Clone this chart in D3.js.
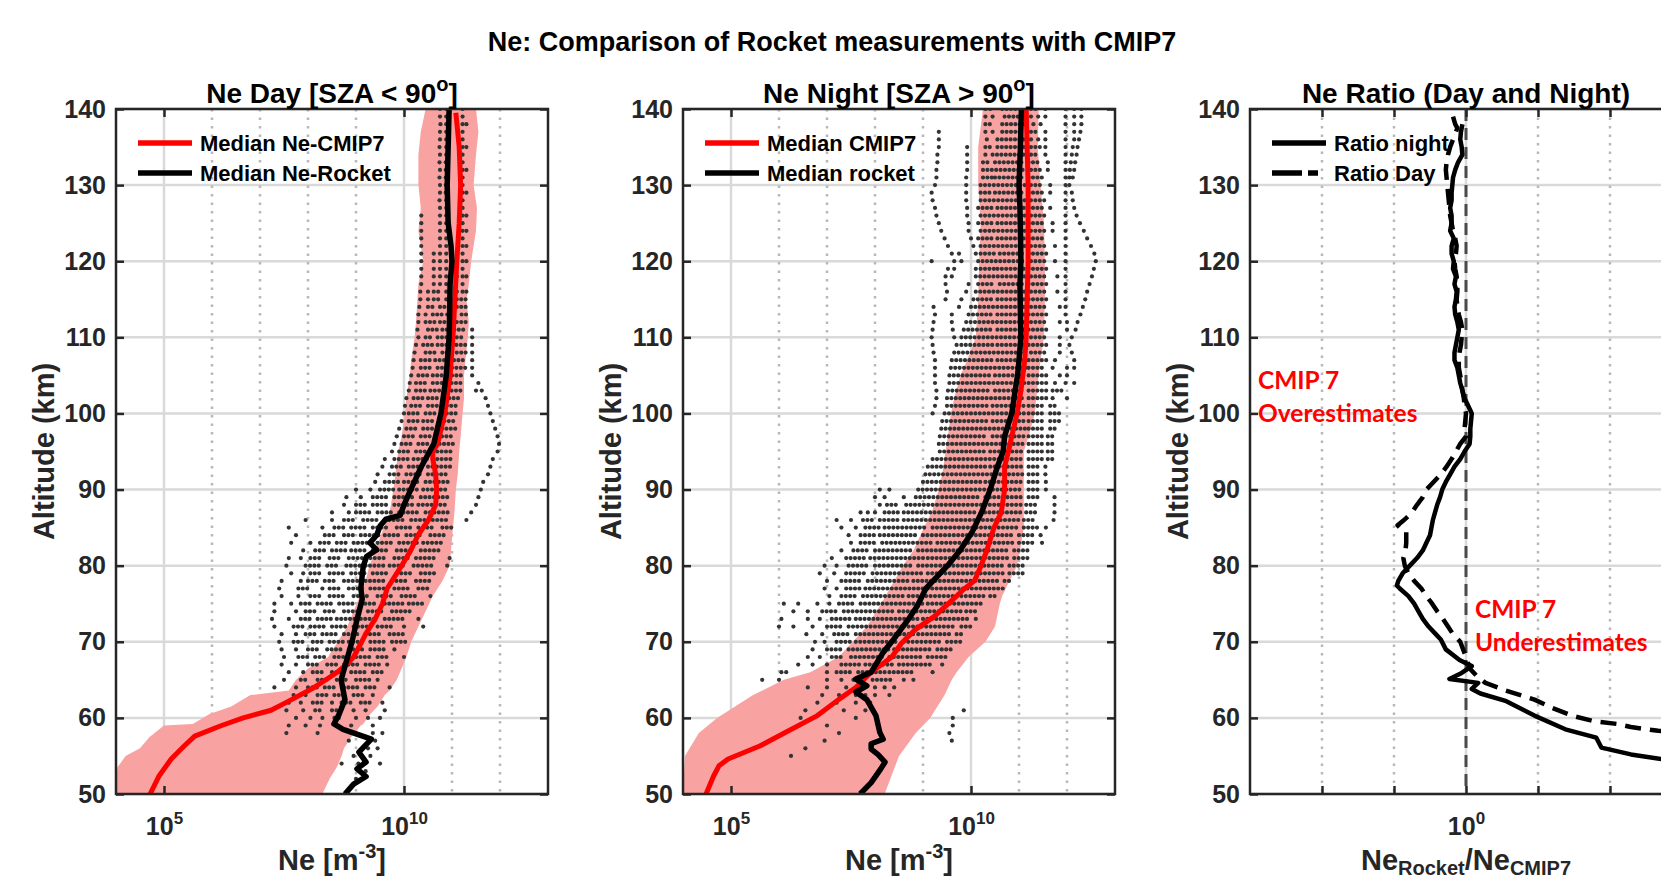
<!DOCTYPE html>
<html>
<head>
<meta charset="utf-8">
<script src="https://cdn.jsdelivr.net/npm/d3@7"></script>
<style>
  body { margin: 0; background: #fff; }
  svg { display: block; font-family: "Liberation Sans", Arial, sans-serif; }
</style>
</head>
<body>
<svg id="chart" width="1661" height="882"></svg>
<script>
// altitude ticks (km)
var altTicks = [50, 60, 70, 80, 90, 100, 110, 120, 130, 140];

// x ticks: log10 exponents
var neDecades = [5, 6, 7, 8, 9, 10, 11, 12];
var neLabels = [5, 10];
var ratioDecades = [-2, -1, 0, 1, 2];
var ratioLabels = [0];

// CMIP7 cloud envelope, day: [alt, log10 min, log10 max]
var dayCloud = [
  [140, 10.45, 11.5], [137, 10.35, 11.55], [134, 10.3, 11.5], [130, 10.3, 11.45],
  [127, 10.35, 11.52], [124, 10.3, 11.5], [120, 10.4, 11.4], [117, 10.3, 11.35],
  [115, 10.28, 11.3], [112, 10.25, 11.35], [110, 10.22, 11.33], [107, 10.15, 11.28],
  [105, 10.12, 11.25], [102, 10.05, 11.25], [100, 10.02, 11.22], [97, 9.95, 11.18],
  [95, 9.88, 11.15], [92, 9.82, 11.12], [90, 9.78, 11.08], [87, 9.7, 11.05],
  [85, 9.58, 11.02], [82, 9.4, 10.98], [80, 9.28, 10.95], [78, 9.2, 10.8],
  [76, 9.08, 10.6], [74, 8.95, 10.45], [72, 8.82, 10.3], [70, 8.62, 10.15],
  [68, 8.42, 10.05], [66.5, 8.0, 9.95], [65, 7.75, 9.85], [63.6, 7.6, 9.7],
  [63, 6.8, 9.6], [61.5, 6.4, 9.45], [60.5, 5.95, 9.3], [59.2, 5.6, 9.15],
  [59, 5.0, 9.1], [57.5, 4.7, 8.9], [56, 4.5, 8.75], [55, 4.2, 8.7],
  [53.5, 4.03, 8.6], [52, 4.0, 8.45], [50, 4.0, 8.3]
];

// CMIP7 cloud envelope, night
var nightCloud = [
  [140, 10.25, 11.41], [135, 10.15, 11.39], [130, 10.15, 11.45], [125, 10.2, 11.52],
  [120, 10.17, 11.54], [115, 10.15, 11.54], [110, 10.1, 11.52], [107, 9.92, 11.45],
  [105, 9.78, 11.41], [102, 9.65, 11.36], [100, 9.58, 11.33], [97, 9.52, 11.2],
  [95, 9.47, 11.1], [92, 9.4, 11.1], [90, 9.33, 11.1], [87, 9.18, 11.1],
  [85, 9.02, 11.1], [82, 8.8, 11.02], [80, 8.58, 10.96], [78, 8.4, 10.8],
  [76, 8.22, 10.65], [75, 8.13, 10.6], [72, 7.83, 10.5], [70, 7.54, 10.3],
  [68, 7.24, 9.95], [66, 6.65, 9.7], [65, 6.1, 9.6], [63, 5.46, 9.45],
  [60, 4.71, 9.15], [58, 4.33, 8.85], [55, 4.04, 8.5], [50, 4.0, 8.2]
];

// median profiles: [alt, log10 Ne]
var dayCmipMedian = [
  [139.5, 11.08], [135, 11.15], [130, 11.18], [125, 11.15], [120, 11.1], [115, 11.06],
  [110, 11.02], [105, 10.96], [100, 10.85], [96, 10.7], [95, 10.6], [94, 10.6],
  [92, 10.66], [90, 10.68], [88, 10.66], [86, 10.51], [84, 10.29], [82, 10.14],
  [80, 9.95], [77, 9.65], [75, 9.55], [73, 9.4], [71, 9.2], [70, 9.12], [68, 8.95],
  [67, 8.8], [66, 8.61], [64, 8.13], [62, 7.54], [61, 7.23], [60, 6.65], [59, 6.2],
  [57.6, 5.64], [56.3, 5.42], [54.6, 5.15], [52.4, 4.9], [50, 4.71]
];
var dayRocketMedian = [
  [140, 10.94], [135, 10.92], [130, 10.9], [125, 10.92], [122, 10.98], [120, 11.0],
  [117, 10.96], [113, 10.95], [110, 10.94], [105, 10.88], [100, 10.77], [96, 10.62],
  [93, 10.36], [90, 10.14], [88, 10.0], [86.6, 9.92], [86.1, 9.62], [85.2, 9.5],
  [84, 9.43], [83, 9.29], [82.1, 9.43], [81.2, 9.22], [79.9, 9.15], [77, 9.1],
  [75.6, 9.13], [72.9, 9.02], [70.1, 8.92], [66.8, 8.77], [65, 8.69], [62.4, 8.77],
  [60.5, 8.65], [59.2, 8.54], [58.5, 8.73], [57.2, 9.32], [55.5, 9.06], [54.2, 9.21],
  [53.3, 9.02], [52.3, 9.21], [51.3, 8.95], [50, 8.77]
];
var nightCmipMedian = [
  [140, 11.15], [130, 11.19], [120, 11.19], [110, 11.15], [107, 11.12], [103, 11.04],
  [100, 10.96], [97, 10.85], [95, 10.78], [93, 10.7], [90, 10.7], [87, 10.63],
  [85, 10.48], [82, 10.33], [80, 10.21], [78, 10.07], [76.9, 9.85], [75.6, 9.63],
  [73.4, 9.25], [71.6, 8.84], [69.8, 8.55], [68, 8.35], [66, 7.92], [64, 7.6],
  [62.4, 7.24], [60.3, 6.8], [58.3, 6.2], [56.3, 5.6], [54.6, 4.94], [53.7, 4.75],
  [52.4, 4.64], [50, 4.48]
];
var nightRocketMedian = [
  [140, 11.05], [135, 11.03], [130, 11.0], [127, 11.02], [124, 11.03], [120, 11.04],
  [117, 11.02], [113, 11.03], [110, 11.04], [107, 11.0], [105, 10.97], [103, 10.92],
  [100, 10.85], [97, 10.7], [95, 10.67], [93, 10.55], [90, 10.4], [87, 10.22],
  [84.5, 10.03], [82, 9.77], [80, 9.51], [78, 9.21], [77, 9.06], [74.7, 8.88],
  [72.9, 8.69], [70.1, 8.36], [68.6, 8.17], [66, 7.92], [65.1, 7.6], [64.2, 7.83],
  [63.4, 7.6], [62.4, 7.83], [60.3, 8.02], [58.1, 8.1], [57.2, 8.17], [56.6, 7.92],
  [55.9, 7.92], [55.2, 8.06], [54.2, 8.21], [53.3, 8.12], [51.5, 7.92], [50, 7.69]
];

// rocket measurements, day: [alt, [log10 Ne] or [from, to] runs of points]
var dayRocket = [
  [140, [10.75], [10.88], [11.22]], [139, [10.75], [10.88], [11.22]],
  [138, [10.76], [10.88], [11.22], [11.3]], [137, [10.75], [10.88], [11.22]],
  [136, [10.75], [10.88], [11.22]], [135, [10.74], [10.88], [11.22], [11.3]],
  [134, [10.75], [10.88], [11.22]], [133, [10.74], [10.87], [11.22]],
  [132, [10.75], [10.87], [11.22], [11.3]], [131, [10.74], [10.87], [11.22]],
  [130, [10.75], [10.87], [11.22]], [129, [10.75], [10.87], [11.22], [11.3]],
  [128, [10.74], [10.88], [11.22]], [127, [10.75], [10.88], [11.22]],
  [126, [10.36], [10.75], [10.88], [11.22], [11.3]], [125, [10.36], [10.75], [10.88], [11.22]],
  [124, [10.36], [10.75], [10.88], [11.22], [11.3]], [123, [10.36], [10.75], [10.88], [11.22]],
  [122, [10.36], [10.75], [10.88], [11.22], [11.3]], [121, [10.36], [10.62], [10.75], [10.88], [11.22]],
  [120, [10.36], [10.62], [10.75], [10.88], [11.22], [11.3]],
  [119, [10.36], [10.62], [10.75], [10.88], [11.22]],
  [118, [10.36], [10.62], [10.75], [10.88], [11.1], [11.22], [11.3]],
  [117, [10.36], [10.62], [10.75], [10.88], [11.22]],
  [116, [10.34], [10.5], [10.62, 10.75], [10.88], [11.1], [11.22], [11.3]],
  [115, [10.34], [10.5], [10.62, 10.8], [10.88, 11.0], [11.1, 11.3]],
  [114, [10.32], [10.5, 10.65], [10.75, 10.95], [11.1, 11.3]],
  [113, [10.3], [10.45], [10.6, 10.8], [10.9, 11.05], [11.2, 11.3]],
  [112, [10.3], [10.45, 10.65], [10.75, 11.0], [11.1, 11.3]],
  [111, [10.28], [10.5, 10.7], [10.8, 10.95], [11.05, 11.3], [11.42]],
  [110, [10.3], [10.45, 10.6], [10.7, 11.0], [11.1, 11.25], [11.42]],
  [109, [10.25], [10.4, 10.6], [10.7, 10.9], [11.0, 11.3], [11.42]],
  [108, [10.22], [10.45, 10.7], [10.8, 11.0], [11.1, 11.3], [11.42]],
  [107, [10.2], [10.35, 10.55], [10.65, 10.85], [10.95, 11.25], [11.42]],
  [106, [10.18], [10.35, 10.6], [10.7, 10.9], [11.0, 11.3], [11.42]],
  [105, [10.15], [10.3, 10.5], [10.6, 10.9], [11.0, 11.2], [11.42]],
  [104, [10.12], [10.25, 10.5], [10.6, 10.8], [10.9, 11.25], [11.55]],
  [103, [10.1], [10.25, 10.45], [10.55, 10.8], [10.9, 11.2], [11.5], [11.62]],
  [102, [10.05], [10.2, 10.4], [10.5, 10.75], [10.85, 11.2], [11.7]],
  [101, [10.02], [10.15, 10.4], [10.5, 10.7], [10.8, 11.15], [11.75]],
  [100, [10.0], [10.1, 10.35], [10.45, 10.7], [10.8, 11.15], [11.8]],
  [99, [9.95], [10.1, 10.3], [10.4, 10.65], [10.75, 11.1], [11.85]],
  [98, [9.9], [10.05, 10.3], [10.4, 10.6], [10.7, 11.1], [11.9]],
  [97, [9.85], [10.0, 10.25], [10.35, 10.6], [10.7, 11.05], [11.95]],
  [96, [9.8], [9.95, 10.2], [10.3, 10.55], [10.65, 11.05], [11.98]],
  [95, [9.75], [9.9, 10.15], [10.25, 10.5], [10.6, 11.0], [11.95]],
  [94, [9.6], [9.8, 10.1], [10.2, 10.5], [10.6, 11.0], [11.85]],
  [93, [9.55], [9.75, 10.0], [10.1, 10.4], [10.5, 11.0], [11.8]],
  [92, [9.45], [9.7, 9.95], [10.05, 10.4], [10.5, 10.95], [11.75]],
  [91, [9.4], [9.6, 9.9], [10.0, 10.3], [10.45, 10.95], [11.65]],
  [90, [9.0], [9.3], [9.5, 9.8], [9.9, 10.3], [10.4, 10.95], [11.6]],
  [89, [8.8], [9.1], [9.35, 9.7], [9.8, 10.2], [10.35, 10.9], [11.55]],
  [88, [8.75], [9.0, 9.2], [9.35, 9.65], [9.8, 10.2], [10.3, 10.9], [11.5]],
  [87, [8.5], [8.85], [9.0, 9.3], [9.45, 9.8], [9.9, 10.3], [10.45, 10.95], [11.4]],
  [86, [7.95], [8.5], [8.75, 9.0], [9.15, 9.5], [9.6, 10.0], [10.15, 10.5], [10.6, 10.9], [11.3]],
  [85, [7.6], [8.3], [8.55, 8.75], [8.9, 9.2], [9.35, 9.7], [9.85, 10.2], [10.3, 10.65], [10.8, 11.0]],
  [84, [7.75], [8.35, 8.6], [8.75, 9.0], [9.1, 9.5], [9.6, 9.9], [10.05, 10.4], [10.55, 10.9]],
  [83, [7.65], [8.05], [8.25, 8.45], [8.6, 8.8], [8.95, 9.3], [9.45, 9.8], [9.9, 10.3], [10.4, 10.8]],
  [82, [7.9], [8.15, 8.35], [8.5, 8.8], [8.9, 9.2], [9.35, 9.7], [9.85, 10.2], [10.35, 10.75]],
  [81, [7.6], [7.85], [8.05, 8.3], [8.45, 8.7], [8.85, 9.2], [9.3, 9.65], [9.8, 10.1], [10.25, 10.7], [10.95]],
  [80, [7.55], [7.95, 8.25], [8.4, 8.65], [8.8, 9.1], [9.2, 9.6], [9.7, 10.05], [10.2, 10.6], [10.9]],
  [79, [7.65], [7.9], [8.05, 8.3], [8.45, 8.75], [8.9, 9.25], [9.35, 9.7], [9.85, 10.2], [10.35, 10.7]],
  [78, [7.45], [7.85], [8.0, 8.2], [8.35, 8.6], [8.75, 9.1], [9.2, 9.6], [9.75, 10.1], [10.25, 10.6]],
  [77, [7.4], [7.8, 8.0], [8.3], [8.45, 8.7], [8.85, 9.2], [9.3, 9.65], [9.8, 10.15], [10.3, 10.55]],
  [76, [7.45], [7.8], [8.05, 8.25], [8.45, 8.8], [8.95, 9.3], [9.45, 9.8], [9.95, 10.3], [10.55]],
  [75, [7.3], [7.65], [7.85, 8.05], [8.2, 8.5], [8.65, 9.0], [9.1, 9.45], [9.6, 10.0], [10.1, 10.45]],
  [74, [7.3], [7.75], [7.95, 8.2], [8.35, 8.6], [8.75, 9.1], [9.25, 9.6], [9.75, 10.15]],
  [73, [7.25], [7.6], [7.85, 8.1], [8.2, 8.5], [8.6, 9.0], [9.1, 9.45], [9.6, 10.0], [10.3]],
  [72, [7.3], [7.7, 7.9], [8.05, 8.35], [8.5, 8.8], [8.95, 9.3], [9.45, 9.8], [10.0], [10.4]],
  [71, [7.45], [7.75], [7.95, 8.2], [8.3, 8.6], [8.75, 9.05], [9.2, 9.55], [9.7, 10.0]],
  [70, [7.4], [7.7, 7.9], [8.1, 8.35], [8.45, 8.75], [8.85, 9.2], [9.3, 9.6], [9.75, 10.1]],
  [69, [7.45], [7.75], [8.0, 8.25], [8.4, 8.7], [8.85, 9.15], [9.3, 9.6], [9.8]],
  [68, [7.5], [7.8, 8.0], [8.15, 8.4], [8.55, 8.85], [9.0, 9.3], [9.45, 9.7], [10.0]],
  [67, [7.45], [7.75], [8.0, 8.25], [8.4, 8.6], [8.75, 9.05], [9.2, 9.5], [9.65]],
  [66, [7.6], [7.9], [8.1, 8.35], [8.5, 8.75], [8.9, 9.2], [9.35, 9.55]],
  [65, [7.5], [7.85, 8.0], [8.2, 8.45], [8.6, 8.85], [9.0, 9.3], [9.45]],
  [64, [7.3], [7.75], [8.0, 8.2], [8.35, 8.6], [8.75, 9.05], [9.2, 9.4], [9.7]],
  [63, [7.7], [7.95], [8.2, 8.4], [8.55, 8.8], [8.95, 9.2], [9.35]],
  [62, [7.6], [7.85], [8.1, 8.3], [8.5], [8.7, 8.9], [9.1, 9.3], [9.55]],
  [61, [7.55], [7.9], [8.15, 8.3], [8.5, 8.7], [8.95], [9.2], [9.6]],
  [60, [7.75], [8.05], [8.3], [8.55, 8.7], [9.0], [9.25], [9.5]],
  [59, [7.6], [7.95], [8.25], [8.9], [9.35]],
  [58, [7.55], [8.2], [9.35], [9.55]],
  [57, [8.85], [9.4]], [56, [9.25], [9.45]], [55, [8.95], [9.3]],
  [54, [8.7], [9.05], [9.5]], [53, [9.2]], [52, [9.0]]
];

// rocket measurements, night
var nightRocket = [
  [140, [10.3], [10.4], [10.65, 11.1], [11.25, 11.4], [11.55], [11.97], [12.15], [12.3]],
  [139, [10.3], [10.45], [10.7, 11.1], [11.25], [11.4], [11.55], [11.97], [12.15], [12.3]],
  [138, [10.3, 10.45], [10.65, 11.15], [11.3], [11.45], [11.97], [12.15], [12.3]],
  [137, [9.33], [10.3], [10.45], [10.65, 11.1], [11.25, 11.4], [11.55], [11.97], [12.15], [12.28]],
  [136, [9.33], [10.33], [10.55, 11.15], [11.25], [11.4], [11.55], [11.97], [12.15], [12.25]],
  [135, [9.33], [9.92], [10.3, 10.45], [10.55, 11.1], [11.25, 11.45], [11.55], [11.97], [12.12], [12.22]],
  [134, [9.3], [9.92], [10.3], [10.45, 11.15], [11.25, 11.4], [11.55], [11.97], [12.1], [12.2]],
  [133, [9.3], [9.92], [10.25, 10.4], [10.5, 11.1], [11.2, 11.45], [11.6], [11.97], [12.08], [12.17]],
  [132, [9.28], [9.92], [10.25, 11.15], [11.25, 11.45], [11.6], [11.97], [12.06], [12.15]],
  [131, [9.28], [9.9], [10.25, 10.45], [10.5, 11.1], [11.2, 11.5], [11.97], [12.05], [12.12]],
  [130, [9.25], [9.9], [10.2, 11.15], [11.25, 11.5], [11.65], [11.97], [12.05]],
  [129, [9.18], [9.9], [10.2, 10.45], [10.5, 11.1], [11.2, 11.5], [11.65], [11.97], [12.1]],
  [128, [9.2], [9.9], [10.2, 11.15], [11.25, 11.55], [11.97], [12.12]],
  [127, [9.25], [9.92], [10.15, 10.5], [10.55, 11.1], [11.2, 11.5], [11.65], [11.97], [12.15]],
  [126, [9.28], [9.92], [10.2, 11.15], [11.25, 11.55], [11.97], [12.2]],
  [125, [9.33], [9.95], [10.15, 10.5], [10.55, 11.1], [11.2, 11.55], [11.7], [11.97], [12.27]],
  [124, [9.38], [9.95], [10.2, 11.15], [11.25, 11.55], [11.7], [11.97], [12.35]],
  [123, [9.45], [10.0], [10.15, 10.45], [10.55, 11.1], [11.2, 11.55], [11.97], [12.42]],
  [122, [9.52], [10.05], [10.2, 11.15], [11.25, 11.6], [11.75], [11.97], [12.5]],
  [121, [9.6], [9.75], [10.1], [10.2, 10.5], [10.6, 11.1], [11.2, 11.6], [11.97], [12.57]],
  [120, [9.18], [9.65], [9.8], [10.15, 11.15], [11.25, 11.6], [11.75], [11.97], [12.6]],
  [119, [9.52], [9.65], [10.1], [10.2, 10.5], [10.55, 11.1], [11.2, 11.6], [11.97], [12.56]],
  [118, [9.47], [9.6], [10.1, 11.15], [11.25, 11.6], [11.8], [11.97], [12.52]],
  [117, [9.47], [9.95], [10.15, 10.5], [10.6, 11.1], [11.2, 11.6], [11.97], [12.47]],
  [116, [9.5], [9.9], [10.1, 11.15], [11.25, 11.6], [11.8], [11.97], [12.42]],
  [115, [9.47], [9.8], [10.05, 10.5], [10.55, 11.1], [11.2, 11.6], [11.97], [12.38]],
  [114, [9.22], [9.75], [10.0, 11.15], [11.25, 11.6], [11.85], [11.97], [12.33]],
  [113, [9.25], [9.6], [9.95, 10.5], [10.55, 11.1], [11.2, 11.6], [11.97], [12.28]],
  [112, [9.22], [9.6], [9.9, 11.15], [11.25, 11.6], [11.85], [12.0], [12.22]],
  [111, [9.2], [9.62], [9.85, 10.45], [10.55, 11.1], [11.2, 11.6], [12.0], [12.18]],
  [110, [9.18], [9.65], [9.8, 11.15], [11.25, 11.6], [11.85], [12.1]],
  [109, [9.2], [9.7], [9.8, 10.5], [10.55, 11.1], [11.2, 11.6], [11.85], [12.05]],
  [108, [9.22], [9.65, 11.15], [11.25, 11.6], [11.85], [12.1]],
  [107, [9.25], [9.6, 10.5], [10.55, 11.1], [11.2, 11.6], [11.75], [12.15]],
  [106, [9.25], [9.58, 11.15], [11.2, 11.55], [11.7], [12.0], [12.15]],
  [105, [9.25], [9.55, 10.45], [10.5, 11.1], [11.2, 11.6], [11.85], [12.0]],
  [104, [9.25], [9.55, 11.15], [11.2, 11.6], [11.75], [11.97], [12.15]],
  [103, [9.28], [9.52, 10.4], [10.5, 11.1], [11.2, 11.6], [11.7, 11.93]],
  [102, [9.28], [9.5, 11.15], [11.2, 11.6], [11.7], [12.0]],
  [101, [9.25], [9.5, 10.4], [10.45, 11.1], [11.2, 11.55], [11.65, 11.82]],
  [100, [9.2], [9.45, 11.15], [11.2, 11.55], [11.65, 11.85]],
  [99, [9.4, 10.35], [10.45, 11.1], [11.2, 11.55], [11.65, 11.85]],
  [98, [9.38, 11.15], [11.2, 11.55], [11.65, 11.78]],
  [97, [9.35, 10.35], [10.45, 11.1], [11.2, 11.5], [11.6, 11.78]],
  [96, [9.33, 11.15], [11.2, 11.5], [11.6, 11.74]],
  [95, [9.35, 10.3], [10.4, 11.1], [11.2, 11.5], [11.6, 11.74]],
  [94, [9.2, 11.1], [11.2, 11.5], [11.6, 11.7]],
  [93, [9.1, 10.3], [10.4, 11.1], [11.2, 11.45], [11.55, 11.63]],
  [92, [9.05, 11.1], [11.2, 11.45], [11.55, 11.6]],
  [91, [9.0, 10.2], [10.3, 11.1], [11.2, 11.45], [11.56]],
  [90, [8.1], [8.3], [8.9, 11.1], [11.2, 11.45], [11.56]],
  [89, [8.0], [8.2], [8.6], [8.85, 10.2], [10.3, 11.1], [11.2, 11.4], [11.74]],
  [88, [8.1], [8.25, 8.5], [8.65, 11.05], [11.15, 11.4], [11.74]],
  [87, [7.7], [7.85], [8.0], [8.2, 8.5], [8.6, 10.1], [10.2, 11.05], [11.15, 11.4], [11.74]],
  [86, [7.2], [7.5], [7.75, 8.0], [8.1, 8.5], [8.6, 11.0], [11.1, 11.35], [11.72]],
  [85, [7.3], [7.6], [7.8, 8.1], [8.2, 9.1], [9.2, 11.0], [11.1, 11.4], [11.56]],
  [84, [7.45], [7.7, 8.0], [8.1, 8.9], [9.0, 10.9], [11.0, 11.35], [11.45]],
  [83, [7.5], [7.7, 8.0], [8.15, 9.2], [9.3, 10.9], [11.0, 11.35], [11.48]],
  [82, [7.3], [7.55, 7.9], [8.0, 8.8], [8.9, 10.8], [10.9, 11.26]],
  [81, [7.1], [7.4, 7.8], [7.9, 9.0], [9.1, 10.8], [10.9, 11.26]],
  [80, [6.95], [7.2], [7.45, 7.9], [8.0, 8.8], [8.9, 10.7], [10.8, 11.1]],
  [79, [6.85], [7.15], [7.4, 7.8], [7.95, 9.0], [9.1, 10.7], [10.8, 11.1]],
  [78, [7.0], [7.3, 7.7], [7.85, 8.7], [8.8, 10.6], [10.7, 10.8]],
  [77, [6.95], [7.2], [7.4, 7.7], [7.8, 9.0], [9.1, 10.6], [10.66]],
  [76, [7.05], [7.3, 7.6], [7.75, 8.6], [8.7, 10.3], [10.4, 10.5]],
  [75, [6.1], [6.4], [6.8], [7.05], [7.25, 7.6], [7.7, 9.0], [9.1, 10.22]],
  [74, [6.3], [6.6], [6.9, 7.2], [7.35, 8.4], [8.5, 9.8], [9.9, 10.1]],
  [73, [6.05], [6.6], [6.85], [7.1, 7.5], [7.6, 8.9], [9.0, 10.0], [10.1]],
  [72, [6.0], [6.3], [6.7], [7.0, 7.3], [7.45, 8.6], [8.7, 9.7], [9.8, 10.0]],
  [71, [6.57], [6.9], [7.15, 7.5], [7.6, 8.8], [8.9, 9.6], [9.7, 9.8]],
  [70, [6.75], [6.95], [7.2, 7.5], [7.6, 8.5], [8.6, 9.4], [9.5, 9.85]],
  [69, [6.7], [7.0, 7.3], [7.45, 8.3], [8.4, 9.2], [9.3, 9.6]],
  [68, [6.6], [6.85], [7.1, 7.3], [7.5, 8.2], [8.3, 9.0], [9.1, 9.5]],
  [67, [6.4], [6.7], [7.0], [7.3, 7.7], [7.8, 8.4], [8.5, 9.2], [9.4]],
  [66, [6.05], [6.15], [7.0], [7.2, 7.5], [7.65, 8.2], [8.3, 8.8], [9.2]],
  [65, [5.65], [6.0], [7.0], [7.3], [7.55, 7.8], [7.95, 8.4], [8.6], [8.8]],
  [64, [6.6], [7.0], [7.4], [7.7], [8.0], [8.2], [8.4]],
  [63, [6.9], [7.25], [7.6], [7.8], [8.0], [8.3]],
  [62, [6.8], [7.2], [7.6], [7.9]],
  [61, [6.55], [7.35], [7.8], [9.85]],
  [60, [6.45], [7.6], [9.62]],
  [59, [7.0], [9.62]], [58, [7.25], [9.55]], [57, [6.95], [9.6]],
  [56, [6.55]], [55, [6.25]]
];

// ratio Ne_rocket / Ne_CMIP7: [alt, log10 ratio]
var ratioNight = [
  [138, -0.05], [137, -0.07], [136, -0.08], [135, -0.06], [134, -0.05], [133, -0.11],
  [132, -0.15], [131, -0.18], [130, -0.19], [129, -0.2], [128, -0.2], [127, -0.22],
  [126, -0.2], [125, -0.2], [124, -0.22], [123, -0.17], [122, -0.2], [121, -0.2],
  [120, -0.17], [119, -0.18], [118, -0.14], [117, -0.16], [116, -0.13], [115, -0.14],
  [114, -0.16], [113, -0.15], [112, -0.12], [111, -0.1], [110, -0.12], [109, -0.14],
  [108, -0.16], [107, -0.16], [106, -0.12], [105, -0.1], [104, -0.08], [103, -0.05],
  [102, -0.02], [101, 0.03], [100, 0.08], [99, 0.07], [98, 0.06], [97, 0.06],
  [96, 0.05], [95, -0.02], [94, -0.08], [93, -0.16], [92, -0.22], [91, -0.28],
  [90, -0.33], [89, -0.36], [88, -0.4], [87, -0.43], [86, -0.46], [85, -0.48],
  [84, -0.5], [83, -0.55], [82, -0.6], [81, -0.68], [80, -0.78], [79, -0.88],
  [78, -0.94], [77.4, -0.96], [77, -0.92], [76, -0.8], [75, -0.72], [74, -0.66],
  [73, -0.6], [72, -0.52], [71, -0.42], [70.3, -0.35], [69, -0.28], [67.6, -0.09],
  [66.8, 0.08], [65.9, -0.06], [65.1, -0.23], [64.6, 0.17], [63.8, 0.08], [63.2, 0.2],
  [62.2, 0.56], [60.3, 0.95], [58.5, 1.38], [57.4, 1.81], [56.1, 1.88], [55.2, 2.29],
  [54.6, 2.71], [53.5, 3.1]
];
var ratioDay = [
  [139, -0.18], [138, -0.15], [137.5, -0.12], [136, -0.18], [135, -0.22], [134, -0.25],
  [133, -0.27], [132, -0.28], [131, -0.27], [130, -0.26], [129, -0.25], [128, -0.24],
  [127, -0.23], [126, -0.22], [125, -0.2], [124, -0.18], [123, -0.15], [122, -0.13],
  [121, -0.14], [120, -0.16], [119, -0.15], [118, -0.13], [117, -0.12], [116, -0.12],
  [115, -0.13], [114, -0.12], [113, -0.1], [112, -0.07], [111, -0.05], [110, -0.06],
  [109, -0.07], [108, -0.09], [107, -0.1], [106, -0.1], [105, -0.08], [104, -0.06],
  [103, -0.05], [102, -0.03], [101, -0.02], [100, 0.0], [99, -0.01], [98, -0.02],
  [97, 0.0], [96, -0.08], [95, -0.14], [94, -0.2], [93, -0.27], [92, -0.35],
  [91, -0.45], [90, -0.55], [89, -0.6], [88, -0.68], [87, -0.75], [86, -0.86],
  [85.3, -0.95], [85, -0.92], [84.5, -0.83], [83, -0.83], [82, -0.84], [81, -0.87],
  [80, -0.85], [79, -0.8], [78, -0.72], [77, -0.62], [76, -0.55], [75, -0.47],
  [74, -0.4], [73, -0.32], [72, -0.25], [71, -0.18], [70, -0.08], [68, 0.0],
  [66.5, 0.05], [65.5, 0.15], [64.6, 0.27], [63.6, 0.55], [62.4, 0.95], [61.3, 1.2],
  [60.3, 1.47], [59.6, 1.76], [59.2, 2.1], [58.8, 2.29], [58.3, 2.67], [58.1, 2.9]
];

// layout
var svg = d3.select("#chart");
var plotTop = 109, plotBottom = 794, pw = 432;
var font = "'Liberation Sans', Arial, sans-serif";
var ink = "#262626";

svg.append("rect").attr("width", 1661).attr("height", 882).attr("fill", "#fff");

var y = d3.scaleLinear().domain([50, 140]).range([plotBottom, plotTop]);
var p10 = function(v) { return Math.pow(10, v); };

svg.append("text")
    .attr("x", 832).attr("y", 51)
    .attr("text-anchor", "middle")
    .attr("font-family", font).attr("font-weight", "bold").attr("font-size", 27)
    .attr("fill", "#000")
    .text("Ne: Comparison of Rocket measurements with CMIP7");

function makePanel(left, domain, decades, labels, tickAll) {
    var g = svg.append("g").attr("transform", "translate(" + left + ",0)");
    var x = d3.scaleLog().domain(domain).range([0, pw]);
    var id = "clip" + left;
    g.append("clipPath").attr("id", id).append("rect")
        .attr("x", 0).attr("y", plotTop).attr("width", pw).attr("height", plotBottom - plotTop);

    // grid
    g.selectAll(".hgrid").data(altTicks).enter().append("line")
        .attr("x1", 0).attr("x2", pw)
        .attr("y1", function(d) { return y(d); }).attr("y2", function(d) { return y(d); })
        .attr("stroke", "#d9d9d9").attr("stroke-width", 2.5);
    g.selectAll(".vgrid").data(decades).enter().append("line")
        .attr("x1", function(d) { return x(p10(d)); }).attr("x2", function(d) { return x(p10(d)); })
        .attr("y1", plotTop).attr("y2", plotBottom)
        .attr("stroke", function(d) { return labels.indexOf(d) >= 0 ? "#d9d9d9" : "#b8b8b8"; })
        .attr("stroke-width", 2.5)
        .attr("stroke-dasharray", function(d) { return labels.indexOf(d) >= 0 ? null : "2.5,6"; });

    var plot = g.append("g").attr("clip-path", "url(#" + id + ")");
    return { g: g, x: x, plot: plot, decades: decades, labels: labels, tickAll: tickAll };
}

function finishPanel(p, title, xlabel) {
    var g = p.g, x = p.x;
    var tickVals = (p.tickAll ? p.decades : p.labels).map(p10);

    function styleAxis(sel) {
        sel.select(".domain").remove();
        sel.selectAll(".tick line").attr("stroke", ink).attr("stroke-width", 2.5);
        sel.attr("font-family", font).attr("font-weight", "bold").attr("font-size", 25);
        sel.selectAll(".tick text").attr("fill", ink);
    }

    g.append("g").call(d3.axisLeft(y).tickValues(altTicks).tickSize(-8).tickPadding(10)).call(styleAxis);
    g.append("g").attr("transform", "translate(" + pw + ",0)")
        .call(d3.axisRight(y).tickValues(altTicks).tickSize(-8).tickFormat("")).call(styleAxis);
    g.append("g").attr("transform", "translate(0," + plotTop + ")")
        .call(d3.axisTop(x).tickValues(tickVals).tickSize(-8).tickFormat("")).call(styleAxis);
    var bx = g.append("g").attr("transform", "translate(0," + plotBottom + ")")
        .call(d3.axisBottom(x).tickValues(tickVals).tickSize(-8).tickPadding(23)).call(styleAxis);
    bx.selectAll(".tick text").each(function(d) {
        var e = Math.round(Math.log10(d));
        var t = d3.select(this).text(null);
        if (p.labels.indexOf(e) < 0) return;
        t.append("tspan").text("10");
        t.append("tspan").attr("dy", -11).attr("font-size", 17).text(e);
    });

    g.append("rect")
        .attr("x", 0).attr("y", plotTop).attr("width", pw).attr("height", plotBottom - plotTop)
        .attr("fill", "none").attr("stroke", ink).attr("stroke-width", 2.5);

    // title
    var tt = g.append("text").attr("x", pw / 2).attr("y", 103).attr("text-anchor", "middle")
        .attr("font-family", font).attr("font-weight", "bold").attr("font-size", 28).attr("fill", "#000");
    title(tt);

    // y label
    g.append("text")
        .attr("transform", "translate(-72," + ((plotTop + plotBottom) / 2) + ") rotate(-90)")
        .attr("text-anchor", "middle").attr("dy", "0.35em")
        .attr("font-family", font).attr("font-weight", "bold").attr("font-size", 29).attr("fill", ink)
        .text("Altitude (km)");

    var xl = g.append("text").attr("x", pw / 2).attr("y", 870).attr("text-anchor", "middle")
        .attr("font-family", font).attr("font-weight", "bold").attr("font-size", 29).attr("fill", ink);
    xlabel(xl);
}

function legend(p, items) {
    items.forEach(function(it, i) {
        var ly = 143 + i * 30;
        p.g.append("line").attr("x1", 22).attr("x2", 76).attr("y1", ly).attr("y2", ly)
            .attr("stroke", it.color).attr("stroke-width", 5.5)
            .attr("stroke-dasharray", it.dash || null);
        p.g.append("text").attr("x", 84).attr("y", ly + 8)
            .attr("font-family", font).attr("font-weight", "bold").attr("font-size", 22).attr("fill", "#000")
            .text(it.label);
    });
}

function drawCloud(p, cloud) {
    var area = d3.area()
        .y(function(d) { return y(d[0]); })
        .x0(function(d) { return p.x(p10(d[1])); })
        .x1(function(d) { return p.x(p10(d[2])); });
    p.plot.append("path").datum(cloud).attr("d", area).attr("fill", "#f8a2a2");
}

function drawRocket(p, rows) {
    var dots = p.plot.append("g").attr("fill", "#333").attr("stroke", "#333");
    rows.forEach(function(row) {
        var yy = y(row[0]);
        row.slice(1).forEach(function(s) {
            if (s.length === 1) {
                dots.append("circle").attr("cx", p.x(p10(s[0]))).attr("cy", yy).attr("r", 2.1).attr("stroke", "none");
            } else {
                dots.append("line")
                    .attr("x1", p.x(p10(s[0]))).attr("x2", p.x(p10(s[1])))
                    .attr("y1", yy).attr("y2", yy)
                    .attr("stroke-width", 4.2).attr("stroke-linecap", "round")
                    .attr("stroke-dasharray", "0,4.4");
            }
        });
    });
}

function drawLine(p, data, color, width, dash) {
    var line = d3.line()
        .x(function(d) { return p.x(p10(d[1])); })
        .y(function(d) { return y(d[0]); });
    p.plot.append("path").datum(data).attr("d", line)
        .attr("fill", "none").attr("stroke", color).attr("stroke-width", width)
        .attr("stroke-linejoin", "round").attr("stroke-dasharray", dash || null);
}

function supTitle(text) {
    return function(t) {
        t.append("tspan").text(text);
        t.append("tspan").attr("font-size", 20).attr("dy", -12).text("o");
        t.append("tspan").attr("dy", 12).text("]");
    };
}

function neLabel(t) {
    t.append("tspan").text("Ne [m");
    t.append("tspan").attr("font-size", 20).attr("dy", -12).text("-3");
    t.append("tspan").attr("dy", 12).text("]");
}

// Panel 1: day
var p1 = makePanel(116, [1e4, 1e13], neDecades, neLabels, false);
drawCloud(p1, dayCloud);
drawRocket(p1, dayRocket);
drawLine(p1, dayCmipMedian, "#ff0000", 5);
drawLine(p1, dayRocketMedian, "#000000", 5.5);
finishPanel(p1, supTitle("Ne Day [SZA < 90"), neLabel);
legend(p1, [{ label: "Median Ne-CMIP7", color: "#ff0000" }, { label: "Median Ne-Rocket", color: "#000" }]);

// Panel 2: night
var p2 = makePanel(683, [1e4, 1e13], neDecades, neLabels, false);
drawCloud(p2, nightCloud);
drawRocket(p2, nightRocket);
drawLine(p2, nightCmipMedian, "#ff0000", 5);
drawLine(p2, nightRocketMedian, "#000000", 5.5);
finishPanel(p2, supTitle("Ne Night [SZA > 90"), neLabel);
legend(p2, [{ label: "Median CMIP7", color: "#ff0000" }, { label: "Median rocket", color: "#000" }]);

// Panel 3: ratio
var p3 = makePanel(1250, [1e-3, 1e3], ratioDecades, ratioLabels, true);
p3.plot.append("line")
    .attr("x1", p3.x(1)).attr("x2", p3.x(1)).attr("y1", plotTop).attr("y2", plotBottom)
    .attr("stroke", "#4a4a4a").attr("stroke-width", 3).attr("stroke-dasharray", "12,7");
drawLine(p3, ratioNight, "#000", 4.5);
drawLine(p3, ratioDay, "#000", 4.5, "16,9");
finishPanel(p3, function(t) { t.text("Ne Ratio (Day and Night)"); }, function(t) {
    t.append("tspan").text("Ne");
    t.append("tspan").attr("font-size", 20).attr("dy", 5).text("Rocket");
    t.append("tspan").attr("dy", -5).text("/Ne");
    t.append("tspan").attr("font-size", 20).attr("dy", 5).text("CMIP7");
});
legend(p3, [{ label: "Ratio night", color: "#000" }, { label: "Ratio Day", color: "#000", dash: "30,6,10,100" }]);

// annotations
var notes = [
    { x: 1258, y: 389, text: "CMIP 7" }, { x: 1258, y: 422, text: "Overestimates" },
    { x: 1475, y: 618, text: "CMIP 7" }, { x: 1475, y: 651, text: "Underestimates" }
];
svg.selectAll(".note").data(notes).enter().append("text")
    .attr("x", function(d) { return d.x; }).attr("y", function(d) { return d.y; })
    .attr("font-family", "Lato, 'Open Sans', sans-serif").attr("font-weight", "bold").attr("font-size", 24.5)
    .attr("fill", "#ff0000")
    .text(function(d) { return d.text; });
</script>
</body>
</html>
